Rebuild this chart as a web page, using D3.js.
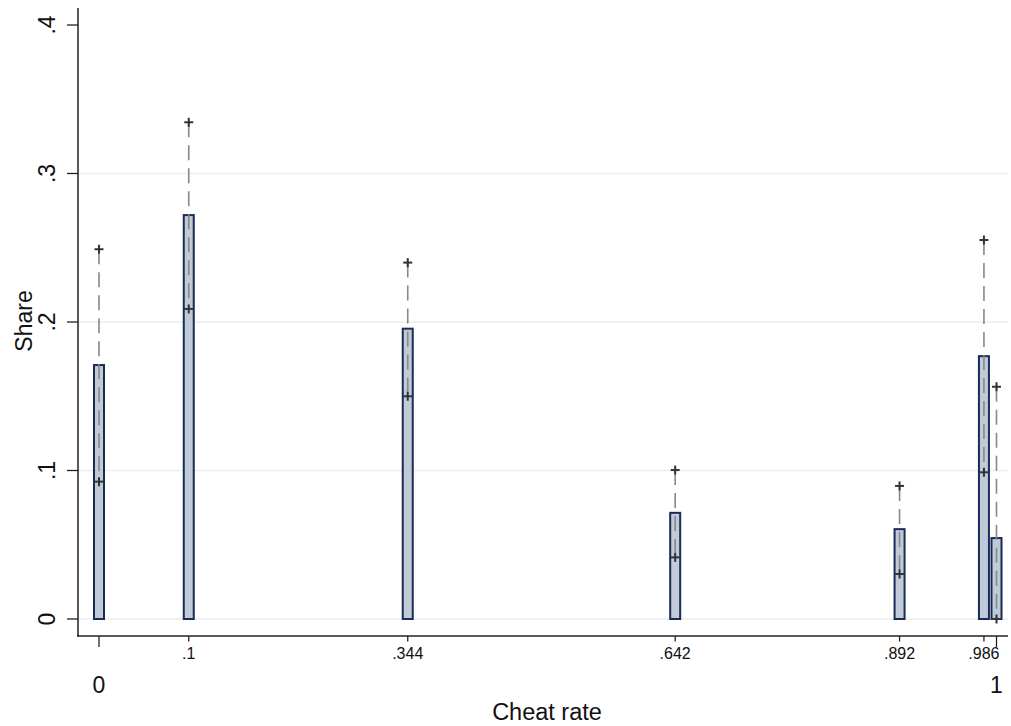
<!DOCTYPE html>
<html>
<head>
<meta charset="utf-8">
<script src="https://cdn.jsdelivr.net/npm/d3@7"></script>
<style>
  html, body { margin: 0; padding: 0; background: #ffffff; }
  svg { display: block; font-family: "Liberation Sans", Arial, Helvetica, sans-serif; }
</style>
</head>
<body>
<svg id="chart" width="1011" height="726"></svg>
<script>
// ---- data ----
const cheatRates = [0, 0.1, 0.344, 0.642, 0.892, 0.986, 1];
const shares     = [0.171, 0.272, 0.1955, 0.0715, 0.0605, 0.177, 0.0545];
const ciUpper    = [0.249, 0.3345, 0.240, 0.1003, 0.0896, 0.2552, 0.1564];
const ciLower    = [0.0925, 0.2088, 0.150, 0.0415, 0.0303, 0.0988, 0.0];
const yTicks     = [0, 0.1, 0.2, 0.3, 0.4];
const yTickLabels = ["0", ".1", ".2", ".3", ".4"];
const gridTicks  = [0, 0.1, 0.2, 0.3];
const xMajorTicks = [0, 1];
const xMajorLabels = ["0", "1"];
const xMinorTicks = [0.1, 0.344, 0.642, 0.892, 0.986];
const xMinorLabels = [".1", ".344", ".642", ".892", ".986"];

// ---- layout ----
const svg = d3.select("#chart");
const x = d3.scaleLinear().domain([0, 1]).range([99, 996.5]);
const y = d3.scaleLinear().domain([0, 0.4]).range([619, 25]);
const axisX = 78, axisY = 636;
const barW = 10;

// gridlines
svg.append("g").selectAll("line").data(gridTicks).join("line")
  .attr("x1", axisX).attr("x2", 1008)
  .attr("y1", d => y(d)).attr("y2", d => y(d))
  .attr("stroke", "#e6eff2").attr("stroke-width", 1.5);

// bars
svg.append("g").selectAll("rect").data(cheatRates).join("rect")
  .attr("x", d => x(d) - barW / 2)
  .attr("width", barW)
  .attr("y", (d, i) => y(shares[i]))
  .attr("height", (d, i) => y(0) - y(shares[i]))
  .attr("fill", "#bfccd8")
  .attr("stroke", "#1b2a57")
  .attr("stroke-width", 2);

// whiskers
svg.append("g").selectAll("line").data(cheatRates).join("line")
  .attr("x1", d => x(d)).attr("x2", d => x(d))
  .attr("y1", (d, i) => y(ciUpper[i]))
  .attr("y2", (d, i) => y(ciLower[i]))
  .attr("stroke", "#888888").attr("stroke-width", 1.6)
  .attr("stroke-dasharray", "15,8");

// markers
const marks = [];
cheatRates.forEach((d, i) => { marks.push([d, ciUpper[i]]); marks.push([d, ciLower[i]]); });
const mk = svg.append("g").selectAll("g").data(marks).join("g")
  .attr("transform", d => `translate(${x(d[0])},${y(d[1])})`);
mk.append("line").attr("x1", -4.5).attr("x2", 4.5).attr("y1", 0).attr("y2", 0)
  .attr("stroke", "#333").attr("stroke-width", 2);
mk.append("line").attr("x1", 0).attr("x2", 0).attr("y1", -4.5).attr("y2", 4.5)
  .attr("stroke", "#333").attr("stroke-width", 2);

// axis lines
svg.append("line").attr("x1", axisX).attr("x2", axisX).attr("y1", 8).attr("y2", axisY + 0.75)
  .attr("stroke", "#222").attr("stroke-width", 1.5);
svg.append("line").attr("x1", axisX - 0.75).attr("x2", 1008).attr("y1", axisY).attr("y2", axisY)
  .attr("stroke", "#222").attr("stroke-width", 1.5);

// y ticks
const yt = svg.append("g").selectAll("g").data(yTicks).join("g");
yt.append("line").attr("x1", 67).attr("x2", axisX).attr("y1", d => y(d)).attr("y2", d => y(d))
  .attr("stroke", "#222").attr("stroke-width", 1.3);
yt.append("text")
  .attr("transform", d => `translate(55,${y(d)}) rotate(-90)`)
  .attr("text-anchor", "middle")
  .attr("font-size", 23).attr("fill", "#111")
  .text((d, i) => yTickLabels[i]);

// x major ticks
const xm = svg.append("g").selectAll("g").data(xMajorTicks).join("g");
xm.append("line").attr("x1", d => x(d)).attr("x2", d => x(d)).attr("y1", axisY).attr("y2", 647)
  .attr("stroke", "#222").attr("stroke-width", 1.3);
xm.append("text").attr("x", d => x(d)).attr("y", 693)
  .attr("text-anchor", "middle").attr("font-size", 23).attr("fill", "#111")
  .text((d, i) => xMajorLabels[i]);

// x minor ticks
const xn = svg.append("g").selectAll("g").data(xMinorTicks).join("g");
xn.append("line").attr("x1", d => x(d)).attr("x2", d => x(d)).attr("y1", axisY).attr("y2", 641.5)
  .attr("stroke", "#222").attr("stroke-width", 1.3);
xn.append("text").attr("x", d => x(d)).attr("y", 659)
  .attr("text-anchor", "middle").attr("font-size", 16).attr("fill", "#111")
  .text((d, i) => xMinorLabels[i]);

// axis titles
svg.append("text").attr("x", 547).attr("y", 720).attr("text-anchor", "middle")
  .attr("font-size", 23.5).attr("fill", "#111").text("Cheat rate");
svg.append("text").attr("transform", "translate(32,321) rotate(-90)")
  .attr("text-anchor", "middle").attr("font-size", 23).attr("fill", "#111").text("Share");
</script>
</body>
</html>
